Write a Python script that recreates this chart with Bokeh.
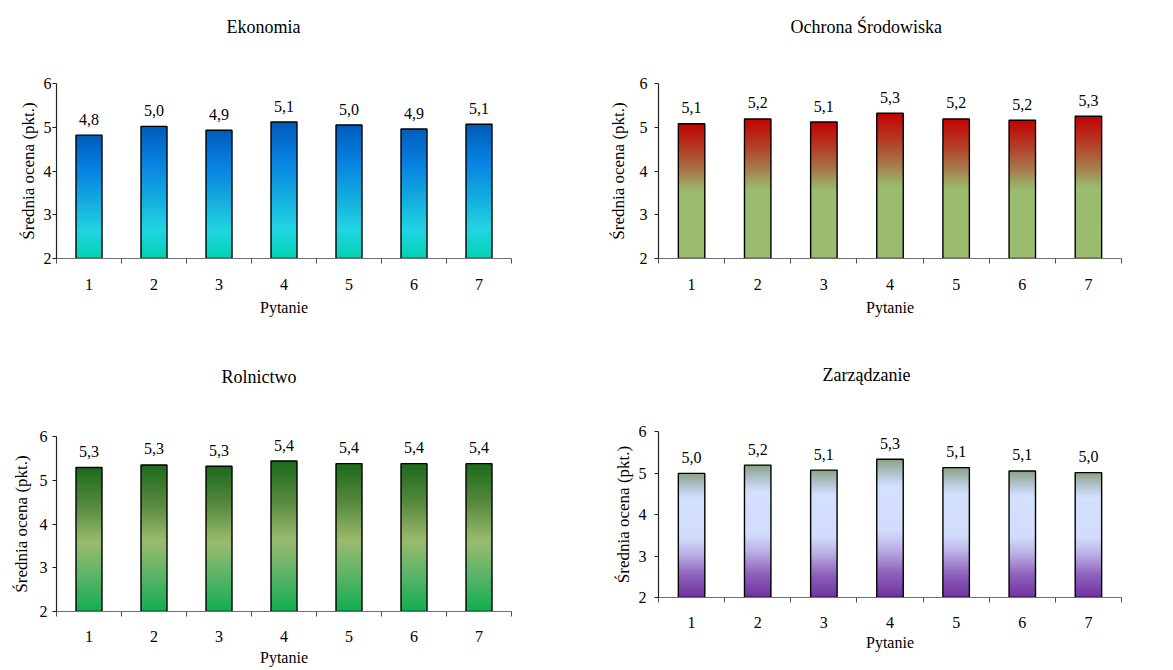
from bokeh.plotting import figure
from bokeh.layouts import column, row
from bokeh.models import FixedTicker, Range1d, ColumnDataSource, Title
from bokeh.core.properties import value
from bokeh.embed import file_html
from bokeh.resources import INLINE

# ---------------- data ----------------
questions = [1, 2, 3, 4, 5, 6, 7]
y_ticks = [2, 3, 4, 5, 6]

titles = ["Ekonomia", "Ochrona Środowiska", "Rolnictwo", "Zarządzanie"]

ekonomia = [4.82, 5.02, 4.93, 5.12, 5.05, 4.96, 5.07]
ekonomia_labels = ["4,8", "5,0", "4,9", "5,1", "5,0", "4,9", "5,1"]

ochrona = [5.08, 5.19, 5.12, 5.32, 5.19, 5.16, 5.25]
ochrona_labels = ["5,1", "5,2", "5,1", "5,3", "5,2", "5,2", "5,3"]

rolnictwo = [5.29, 5.35, 5.32, 5.44, 5.38, 5.38, 5.38]
rolnictwo_labels = ["5,3", "5,3", "5,3", "5,4", "5,4", "5,4", "5,4"]

zarzadzanie = [4.99, 5.19, 5.07, 5.33, 5.13, 5.05, 5.01]
zarzadzanie_labels = ["5,0", "5,2", "5,1", "5,3", "5,1", "5,1", "5,0"]

x_label = "Pytanie"
y_label = "Średnia ocena (pkt.)"

# ---------------- style ----------------
FONT = "'Liberation Serif', 'Times New Roman', serif"
BASE = 2

grad_eko = [(0.0, "#00D2B2"), (0.22, "#22D4E2"), (0.48, "#12A8DE"), (0.72, "#0882E2"), (1.0, "#005CBA")]
grad_och = [(0.0, "#9BBB6E"), (0.50, "#9BBB6E"), (0.64, "#A67C4C"), (0.82, "#B43A24"), (1.0, "#C20202")]
grad_rol = [(0.0, "#10AE52"), (0.25, "#5CB468"), (0.48, "#9BBB6E"), (0.72, "#5A8C40"), (1.0, "#1C6A1C")]
grad_zar = [(0.0, "#7030A0"), (0.18, "#8E62BC"), (0.35, "#BCB0E6"), (0.48, "#D2DCFC"), (0.80, "#D4E0FF"), (0.90, "#B0C2CC"), (1.0, "#8AA282")]


def hex2rgb(h):
    h = h.lstrip("#")
    return tuple(int(h[i:i + 2], 16) for i in (0, 2, 4))


def interp(stops, t):
    for (f0, c0), (f1, c1) in zip(stops[:-1], stops[1:]):
        if f0 <= t <= f1:
            a = 0 if f1 == f0 else (t - f0) / (f1 - f0)
            r0, g0, b0 = hex2rgb(c0)
            r1, g1, b1 = hex2rgb(c1)
            return "#%02x%02x%02x" % (round(r0 + (r1 - r0) * a), round(g0 + (g1 - g0) * a), round(b0 + (b1 - b0) * a))
    return stops[-1][1]


def make_chart(title, vals, labels, stops, width, height, bl, br, bt, bb,
               title_offset, title_gap, ylab_standoff, ytitle_standoff,
               xlab_standoff, xtitle_standoff):
    p = figure(width=width, height=height, output_backend="svg", toolbar_location=None,
               x_range=Range1d(0.5, 7.5), y_range=Range1d(2, 6),
               min_border_left=bl, min_border_right=br, min_border_top=bt, min_border_bottom=bb)
    p.outline_line_color = None
    p.grid.visible = False
    p.background_fill_color = "white"
    p.border_fill_color = "white"

    # spacer (nearest the frame) + real title above it
    p.add_layout(Title(text=" ", text_font_size="1px", standoff=title_gap), "above")
    p.add_layout(Title(text=title, align="left", offset=title_offset, standoff=0,
                       text_font=FONT, text_font_size="18px", text_font_style="normal",
                       text_color="#000000"), "above")

    # gradient bars built from the data values
    n = 60
    w = 0.4
    L, R, B, T, C = [], [], [], [], []
    for x, v in zip(questions, vals):
        for k in range(n):
            L.append(x - w / 2)
            R.append(x + w / 2)
            B.append(BASE + (v - BASE) * k / n)
            T.append(min(v, BASE + (v - BASE) * (k + 1.7) / n))
            C.append(interp(stops, (k + 0.5) / n))
    p.quad(left=L, right=R, bottom=B, top=T, fill_color=C, line_color=None)
    p.vbar(x=questions, top=vals, bottom=BASE, width=w, fill_color=None,
           line_color="#000000", line_width=1.4)

    src = ColumnDataSource(dict(x=questions, y=vals, t=labels))
    p.text(x="x", y="y", text="t", source=src, text_align="center", text_baseline="alphabetic",
           y_offset=-16, text_font=value(FONT), text_font_size="16px", text_color="#000000")

    # x axis: labels at centres, ticks at boundaries
    xa = p.xaxis[0]
    xa.ticker = FixedTicker(ticks=questions, minor_ticks=[q - 0.5 for q in questions] + [7.5])
    xa.major_tick_out = 0
    xa.major_tick_in = 0
    xa.minor_tick_out = 5
    xa.minor_tick_in = 0
    xa.minor_tick_line_color = "#505050"
    xa.axis_line_color = "#707070"
    xa.axis_line_width = 1.2
    xa.major_label_text_font = FONT
    xa.major_label_text_font_size = "16px"
    xa.major_label_text_color = "#000000"
    xa.major_label_standoff = xlab_standoff
    xa.axis_label = x_label
    xa.axis_label_text_font = FONT
    xa.axis_label_text_font_size = "16px"
    xa.axis_label_text_font_style = "normal"
    xa.axis_label_text_color = "#000000"
    xa.axis_label_standoff = xtitle_standoff

    ya = p.yaxis[0]
    ya.ticker = FixedTicker(ticks=y_ticks, minor_ticks=[])
    ya.major_tick_out = 4
    ya.major_tick_in = 0
    ya.major_tick_line_color = "#202020"
    ya.axis_line_color = "#202020"
    ya.axis_line_width = 1.2
    ya.major_label_text_font = FONT
    ya.major_label_text_font_size = "16px"
    ya.major_label_text_color = "#000000"
    ya.major_label_standoff = ylab_standoff
    ya.axis_label = y_label
    ya.axis_label_text_font = FONT
    ya.axis_label_text_font_size = "17px"
    ya.axis_label_text_font_style = "normal"
    ya.axis_label_text_color = "#000000"
    ya.axis_label_standoff = ytitle_standoff
    return p


p1 = make_chart(titles[0], ekonomia, ekonomia_labels, grad_eko, 590, 340, 56, 79, 83, 82,
                170, 44, 1, 3, 15, 6)
p2 = make_chart(titles[1], ochrona, ochrona_labels, grad_och, 583, 340, 68, 52, 83, 82,
                132, 44, 7, 9, 15, 6)
p3 = make_chart(titles[2], rolnictwo, rolnictwo_labels, grad_rol, 590, 325, 56, 79, 91, 59,
                165, 47, 5, 6, 14, 4)
p4 = make_chart(titles[3], zarzadzanie, zarzadzanie_labels, grad_zar, 583, 316, 68, 52, 91, 59,
                164, 44, 8, 3, 14, 3)
p3.margin = (5, 0, 0, 0)

layout = column(row(p1, p2, spacing=0), row(p3, p4, spacing=0), spacing=0)

open("out.html", "w").write(file_html(layout, INLINE))
